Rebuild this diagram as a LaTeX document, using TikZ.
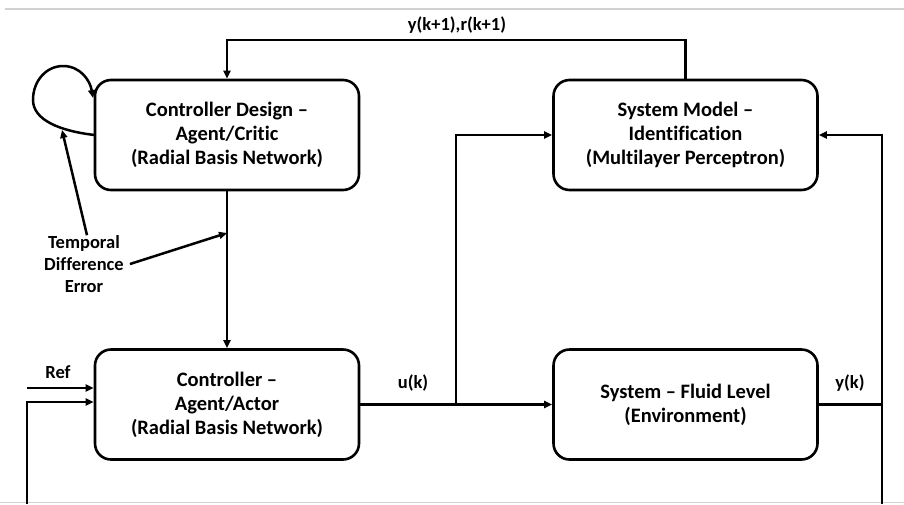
\documentclass[tikz,border=0pt]{standalone}
\usepackage{fontspec}
\setmainfont{Carlito}[Ligatures={TeX,NoCommon}]
\usetikzlibrary{arrows.meta}
\begin{document}
\begin{tikzpicture}[x=1pt,y=-1pt,
  box/.style={draw, line width=2.6pt, rounded corners=16pt, align=center,
    minimum width=264pt, minimum height=110pt, inner sep=0pt,
    font=\bfseries\fontsize{20.5}{24}\selectfont},
  lbl/.style={align=center, inner sep=0pt, font=\bfseries\fontsize{18.5}{22}\selectfont},
  wire/.style={line width=2.5pt},
  arr/.style={wire, -{Triangle[length=8pt,width=7pt]}},
  frame/.style={draw=black!18, line width=1.5pt}]
\useasboundingbox (0,0) rectangle (904,504);
\draw[frame] (5,9) -- (904,9);
\draw[frame] (0,502.5) -- (904,502.5);
% boxes
\node[box] (cd) at (227,135) {Controller Design –\\Agent/Critic\\(Radial Basis Network)};
\node[box] (sm) at (685.5,135) {System Model –\\Identification\\(Multilayer Perceptron)};
\node[box] (ct) at (227,404.5) {Controller –\\Agent/Actor\\(Radial Basis Network)};
\node[box] (sy) at (685.5,404.5) {System – Fluid Level\\(Environment)};
% labels
\node[lbl] (ylab) at (457,25) {y(k+1),r(k+1)};
\node[lbl] (tde) at (84,264) {Temporal\\Difference\\Error};
\node[lbl] (ref) at (58,372) {Ref};
\node[lbl] (ulab) at (413,383) {u(k)};
\node[lbl] (yk) at (850,383) {y(k)};
% coordinates
\coordinate (top) at (0,40);
\coordinate (loopA) at (94.5,135);
\coordinate (loopB) at (93,98);
\coordinate (tdeTip1) at (227,233);
\coordinate (tdeTip2) at (62,130);
\coordinate (refS) at (27,388);
\coordinate (fbL) at (27,504);
\coordinate (fbR) at (882,504);
\coordinate (br) at (456,404.5);
% connectors
\draw[arr] (sm.north) |- (top -| cd.north) -- (cd.north);
\draw[arr] (cd.south) -- (ct.north);
\draw[arr] (loopA) .. controls (60,131) and (33,120) .. (33,100)
  .. controls (33,80) and (47,66) .. (63,66)
  .. controls (80,66) and (90,80) .. (loopB);
\draw[arr] ([xshift=6pt,yshift=0pt]tde.east) -- (tdeTip1);
\draw[arr] ([xshift=3pt]tde.north) -- (tdeTip2);
\draw[arr] (refS) -- (refS -| ct.west);
\draw[arr] (fbL) |- ([yshift=2.5pt]ct.west);
\draw[arr] (ct.east) -- (sy.west);
\draw[arr] (br) |- (sm.west);
\draw[wire] (sy.east) -- (sy.east -| fbR);
\draw[arr] (fbR) |- (sm.east);
\end{tikzpicture}
\end{document}
